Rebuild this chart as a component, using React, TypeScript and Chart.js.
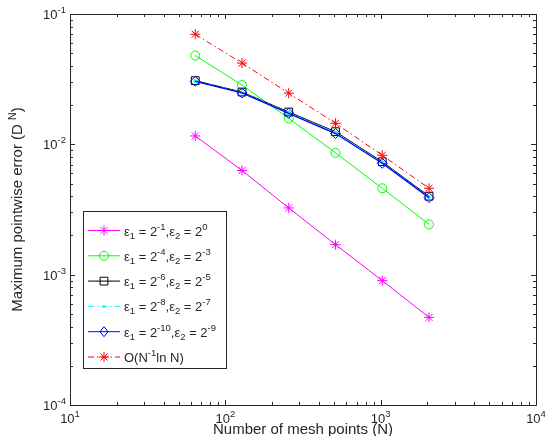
import React, { useEffect, useRef } from 'react';
import { Chart, registerables } from 'chart.js';
Chart.register(...registerables);

const meshPoints = [64, 128, 256, 512, 1024, 2048];
const errCase1 = [0.0116, 0.00630, 0.00325, 0.00170, 0.00090, 0.00047];
const errCase2 = [0.0480, 0.0285, 0.0158, 0.00860, 0.00460, 0.00243];
const errCase3 = [0.0308, 0.0252, 0.0177, 0.0125, 0.00735, 0.00400];
const errCase4 = [0.0306, 0.0250, 0.0175, 0.0123, 0.00725, 0.00395];
const errCase5 = [0.0304, 0.0248, 0.0173, 0.0121, 0.00715, 0.00390];
const errRate = [0.0700, 0.0420, 0.0247, 0.0145, 0.00825, 0.00460];

const xTickExps = ['1', '2', '3', '4'];
const yTickExps = ['-4', '-3', '-2', '-1'];
const eps1Exps = ['-1', '-4', '-6', '-8', '-10'];
const eps2Exps = ['0', '-3', '-5', '-7', '-9'];
const rateLabel = 'O(N';
const xTitle = 'Number of mesh points (N)';
const yTitle = 'Maximum pointwise error (D';

const TXT = '#262626';
const FONT = '"Liberation Sans", Arial, sans-serif';

type Part = { t: string; k: 'n' | 'sub' | 'sup' };

function richWidth(ctx: CanvasRenderingContext2D, parts: Part[], base: number, small: number) {
  let w = 0;
  for (const p of parts) {
    ctx.font = `${p.k === 'n' ? base : small}px ${FONT}`;
    w += ctx.measureText(p.t).width;
  }
  return w;
}

function drawRich(ctx: CanvasRenderingContext2D, parts: Part[], x: number, y: number, align: 'left' | 'right' | 'center', base = 13, small = 9.5) {
  const w = richWidth(ctx, parts, base, small);
  let cx = align === 'left' ? x : align === 'right' ? x - w : x - w / 2;
  ctx.textBaseline = 'alphabetic';
  ctx.textAlign = 'left';
  ctx.fillStyle = TXT;
  for (const p of parts) {
    ctx.font = `${p.k === 'n' ? base : small}px ${FONT}`;
    const dy = p.k === 'sup' ? -6 : p.k === 'sub' ? 3 : 0;
    ctx.fillText(p.t, cx, y + dy);
    cx += ctx.measureText(p.t).width;
  }
}

function drawMarker(ctx: CanvasRenderingContext2D, style: string, x: number, y: number, r: number, color: string) {
  ctx.save();
  ctx.strokeStyle = color;
  ctx.fillStyle = color;
  ctx.lineWidth = 1;
  ctx.setLineDash([]);
  ctx.beginPath();
  if (style === 'star') {
    ctx.moveTo(x - r, y); ctx.lineTo(x + r, y);
    ctx.moveTo(x, y - r); ctx.lineTo(x, y + r);
    const d = r * Math.SQRT1_2;
    ctx.moveTo(x - d, y - d); ctx.lineTo(x + d, y + d);
    ctx.moveTo(x - d, y + d); ctx.lineTo(x + d, y - d);
    ctx.stroke();
  } else if (style === 'circle') {
    ctx.arc(x, y, r, 0, Math.PI * 2);
    ctx.stroke();
  } else if (style === 'rect') {
    const s = r * Math.SQRT1_2;
    ctx.rect(x - s, y - s, 2 * s, 2 * s);
    ctx.stroke();
  } else if (style === 'rectRot') {
    ctx.moveTo(x, y - r); ctx.lineTo(x + r * 0.8, y); ctx.lineTo(x, y + r); ctx.lineTo(x - r * 0.8, y); ctx.closePath();
    ctx.stroke();
  } else if (style === 'dot') {
    ctx.arc(x, y, r, 0, Math.PI * 2);
    ctx.fill();
  }
  ctx.restore();
}

const seriesStyles = [
  { color: '#ff00ff', dash: [] as number[], marker: 'star', r: 5 },
  { color: '#00ff00', dash: [] as number[], marker: 'circle', r: 4.5 },
  { color: '#000000', dash: [] as number[], marker: 'rect', r: 5.5 },
  { color: '#00ffff', dash: [6, 3, 1.5, 3], marker: 'dot', r: 1.5 },
  { color: '#0000ff', dash: [] as number[], marker: 'rectRot', r: 5 },
  { color: '#ff0000', dash: [6, 3, 1.5, 3], marker: 'star', r: 5 },
];

const axesPlugin = {
  id: 'matlabAxes',
  afterDraw(chart: any) {
    const ctx: CanvasRenderingContext2D = chart.ctx;
    const { left, right, top, bottom } = chart.chartArea;
    const xs = chart.scales.x;
    const ys = chart.scales.y;
    ctx.save();
    ctx.strokeStyle = TXT;
    ctx.lineWidth = 1;
    ctx.setLineDash([]);
    ctx.beginPath();
    ctx.rect(Math.round(left) + 0.5, Math.round(top) + 0.5, Math.round(right - left), Math.round(bottom - top));
    ctx.stroke();
    ctx.beginPath();
    for (let d = 1; d <= 4; d++) {
      for (let m = 1; m <= 9; m++) {
        const v = m * Math.pow(10, d);
        if (v > 10000) break;
        const px = Math.round(xs.getPixelForValue(v)) + 0.5;
        const len = m === 1 ? 5 : 3;
        ctx.moveTo(px, bottom); ctx.lineTo(px, bottom - len);
        ctx.moveTo(px, top); ctx.lineTo(px, top + len);
      }
    }
    for (let d = -4; d <= -1; d++) {
      for (let m = 1; m <= 9; m++) {
        const v = m * Math.pow(10, d);
        if (v > 0.1 + 1e-12) break;
        const py = Math.round(ys.getPixelForValue(v)) + 0.5;
        const len = m === 1 ? 5 : 3;
        ctx.moveTo(left, py); ctx.lineTo(left + len, py);
        ctx.moveTo(right, py); ctx.lineTo(right - len, py);
      }
    }
    ctx.stroke();
    xTickExps.forEach((e) => {
      const px = xs.getPixelForValue(Math.pow(10, Number(e)));
      drawRich(ctx, [{ t: '10', k: 'n' }, { t: e, k: 'sup' }], px, bottom + 18, 'center');
    });
    yTickExps.forEach((e) => {
      const py = ys.getPixelForValue(Math.pow(10, Number(e)));
      drawRich(ctx, [{ t: '10', k: 'n' }, { t: e, k: 'sup' }], left - 4, py + 5, 'right');
    });
    drawRich(ctx, [{ t: xTitle, k: 'n' }], (left + right) / 2, bottom + 29, 'center', 15);
    ctx.save();
    ctx.translate(22, (top + bottom) / 2);
    ctx.rotate(-Math.PI / 2);
    drawRich(ctx, [{ t: yTitle + ' ', k: 'n' }, { t: 'N', k: 'sup' }, { t: ')', k: 'n' }], 0, 0, 'center', 15, 10.5);
    ctx.restore();
    const lx = 83.5, ly = 211.5, lw = 143, lh = 157;
    ctx.fillStyle = '#ffffff';
    ctx.fillRect(lx, ly, lw, lh);
    ctx.strokeStyle = TXT;
    ctx.strokeRect(lx, ly, lw, lh);
    const rowY0 = 230.5, step = 25.3;
    seriesStyles.forEach((s, i) => {
      const y = rowY0 + i * step;
      ctx.save();
      ctx.strokeStyle = s.color;
      ctx.lineWidth = 1;
      ctx.setLineDash(s.dash);
      ctx.beginPath();
      ctx.moveTo(88, y); ctx.lineTo(120, y);
      ctx.stroke();
      ctx.restore();
      drawMarker(ctx, s.marker, 104, y, s.r, s.color);
      let parts: Part[];
      if (i < 5) {
        parts = [
          { t: 'ε', k: 'n' }, { t: '1', k: 'sub' }, { t: ' = 2', k: 'n' }, { t: eps1Exps[i], k: 'sup' },
          { t: ',ε', k: 'n' }, { t: '2', k: 'sub' }, { t: ' = 2', k: 'n' }, { t: eps2Exps[i], k: 'sup' },
        ];
      } else {
        parts = [{ t: rateLabel, k: 'n' }, { t: '-1', k: 'sup' }, { t: 'ln N)', k: 'n' }];
      }
      drawRich(ctx, parts, 124, y + 5, 'left', 13, 9.5);
    });
    ctx.restore();
  },
};

export default function App() {
  const ref = useRef<HTMLCanvasElement>(null);
  useEffect(() => {
    document.body.style.margin = '0';
    const all = [errCase1, errCase2, errCase3, errCase4, errCase5, errRate];
    const chart = new Chart(ref.current!, {
      type: 'line',
      data: {
        datasets: all.map((vals, i) => {
          const s = seriesStyles[i];
          return {
            data: vals.map((v, j) => ({ x: meshPoints[j], y: v })),
            borderColor: s.color,
            backgroundColor: 'rgba(0,0,0,0)',
            borderWidth: i === 4 ? 1.3 : 1,
            borderDash: s.dash,
            pointStyle: s.marker === 'dot' ? 'circle' : s.marker,
            pointRadius: s.marker === 'dot' ? 1.5 : s.r,
            pointBorderColor: s.color,
            pointBackgroundColor: s.marker === 'dot' ? s.color : 'rgba(0,0,0,0)',
            pointBorderWidth: 1,
            tension: 0,
            order: 6 - i,
          };
        }),
      },
      options: {
        responsive: false,
        animation: false,
        devicePixelRatio: 1,
        layout: { padding: { left: 70, right: 10, top: 14, bottom: 31 } },
        plugins: { legend: { display: false }, tooltip: { enabled: false } },
        scales: {
          x: { type: 'logarithmic', min: 10, max: 10000, display: false },
          y: { type: 'logarithmic', min: 0.0001, max: 0.1, display: false },
        },
      },
      plugins: [axesPlugin],
    });
    return () => chart.destroy();
  }, []);
  return (
    <div style={{ position: 'absolute', left: 0, top: 0, width: 546, height: 436, background: '#fff' }}>
      <canvas ref={ref} width={546} height={436} />
    </div>
  );
}
